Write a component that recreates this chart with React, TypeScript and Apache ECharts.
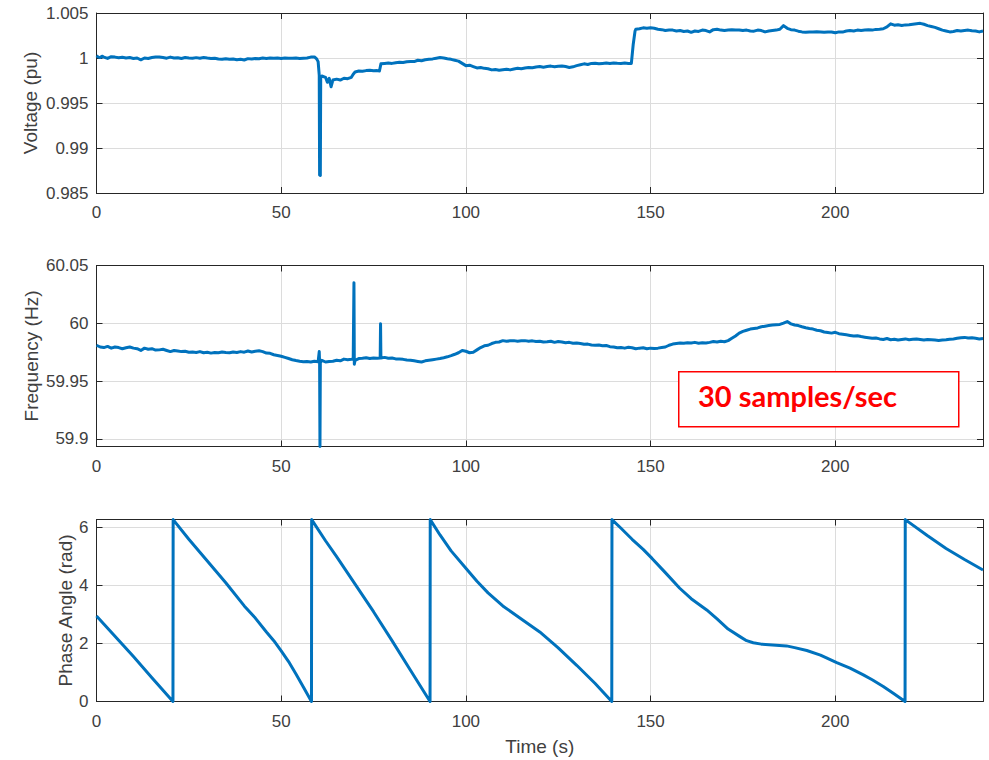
import { useEffect, useRef } from "react";
import * as echarts from "echarts";

// ---- tick labels ----
const timeTicks = [0, 50, 100, 150, 200];
const voltageTicks = [0.985, 0.99, 0.995, 1, 1.005];
const frequencyTicks = [59.9, 59.95, 60, 60.05];
const phaseTicks = [0, 2, 4, 6];

// ---- series values: [time (s), value] ----
const voltageSamples: [number, number][] = [
  [0, 1.00025], [0.5, 1.0001], [1, 1.00005], [1.5, 1.0002], [2, 1.0001], [3, 0.99995], [4, 1.00015], [5, 1.0001], [6, 1.00002], [7, 1.00008], [8, 1.0], [9, 1.00005],
  [10, 0.99995], [11, 1.0], [12, 0.9998], [13, 1.0], [14, 0.99995], [15, 1.00005], [16, 1.0001], [17, 1.0001], [18, 1.00005], [19, 0.99998],
  [20, 1.0001], [21, 1.0], [22, 1.00003], [23, 0.99995], [24, 1.00005], [25, 1.0], [26, 0.99997], [27, 1.00004], [28, 0.99998], [29, 1.00006],
  [30, 1.0], [31, 0.99995], [32, 0.99998], [33, 0.99988], [34, 0.99985], [35, 0.99992], [36, 0.99985], [37, 0.99988], [38, 0.9998], [39, 0.99985],
  [40, 0.99978], [41, 0.99993], [42, 0.99988], [43, 0.99995], [44, 0.99992], [45, 1.0], [46, 0.99995], [47, 1.0], [48, 0.99997], [49, 1.0],
  [50, 0.99995], [51, 1.0], [52, 0.99996], [53, 0.99998], [54, 1.0], [55, 0.99995], [56, 0.99998], [57, 1.00001], [58, 1.0001], [59, 1.00012],
  [59.6, 0.9999], [60, 0.9996], [60.3, 0.9981], [60.4, 0.987], [60.6, 0.98695], [60.7, 0.9978], [61, 0.998], [62, 0.99785], [62.5, 0.9973], [63, 0.99775],
  [63.5, 0.9968], [64, 0.99755], [65, 0.99765], [66, 0.99755], [67, 0.99775], [68, 0.9977], [69, 0.99785], [69.5, 0.9982], [70, 0.99845], [71, 0.99855],
  [72, 0.99852], [73, 0.9986], [74, 0.99865], [75, 0.99858], [76, 0.9986], [76.6, 0.99855], [77, 0.99935], [78, 0.9994], [79, 0.99945], [80, 0.9994],
  [81, 0.99948], [82, 0.99952], [83, 0.9995], [84, 0.99958], [85, 0.99962], [86, 0.9996], [87, 0.99975], [88, 0.9997], [89, 0.9998], [90, 0.99985],
  [91, 0.9999], [92, 0.99998], [93, 1.00005], [94, 1.0], [95, 0.99992], [96, 0.99985], [97, 0.99975], [98, 0.99965], [99, 0.9994], [100, 0.99915],
  [101, 0.9992], [102, 0.99905], [103, 0.9989], [104, 0.99895], [105, 0.99885], [106, 0.9988], [107, 0.99868], [108, 0.99872], [109, 0.99865], [110, 0.9987],
  [111, 0.99875], [112, 0.99868], [113, 0.99878], [114, 0.99885], [115, 0.9988], [116, 0.99888], [117, 0.99895], [118, 0.99892], [119, 0.999], [120, 0.99905],
  [121, 0.99898], [122, 0.99905], [123, 0.9991], [124, 0.99902], [125, 0.99908], [126, 0.99912], [127, 0.99905], [128, 0.99895], [129, 0.99902], [130, 0.99915],
  [131, 0.99925], [132, 0.99935], [133, 0.99928], [134, 0.9994], [135, 0.99942], [136, 0.99935], [137, 0.9994], [138, 0.99945], [139, 0.99938], [140, 0.99945],
  [141, 0.99942], [142, 0.9994], [143, 0.99945], [144, 0.99938], [144.8, 0.9994], [145.3, 1.0015], [145.8, 1.003], [146, 1.0032], [147, 1.00325], [148, 1.00335],
  [149, 1.0033], [150, 1.00335], [151, 1.0033], [152, 1.0032], [153, 1.00315], [154, 1.00305], [155, 1.0031], [156, 1.0031], [157, 1.003], [158, 1.00305],
  [159, 1.00295], [160, 1.003], [161, 1.00285], [162, 1.003], [163, 1.00295], [164, 1.0031], [165, 1.00305], [166, 1.0029], [167, 1.00315], [168, 1.0032],
  [169, 1.0031], [170, 1.00305], [171, 1.0031], [172, 1.00315], [173, 1.0031], [174, 1.00312], [175, 1.00305], [176, 1.0031], [177, 1.003], [178, 1.00298],
  [179, 1.0031], [180, 1.00305], [181, 1.0029], [182, 1.003], [183, 1.00305], [184, 1.0031], [185, 1.0032], [186, 1.0036], [187, 1.0033], [188, 1.00315],
  [189, 1.0031], [190, 1.00298], [191, 1.0029], [192, 1.00285], [193, 1.0029], [194, 1.00288], [195, 1.00292], [196, 1.0029], [197, 1.00285], [198, 1.0029],
  [199, 1.00288], [200, 1.0028], [201, 1.0029], [202, 1.00288], [203, 1.003], [204, 1.00305], [205, 1.003], [206, 1.0031], [207, 1.00305], [208, 1.0031],
  [209, 1.00315], [210, 1.0031], [211, 1.00318], [212, 1.0032], [213, 1.00325], [214, 1.00345], [215, 1.0038], [216, 1.00365], [217, 1.0037], [218, 1.00362],
  [219, 1.00368], [220, 1.0037], [221, 1.00375], [222, 1.0038], [223, 1.00385], [224, 1.00375], [225, 1.0036], [226, 1.0035], [227, 1.0034], [228, 1.00325],
  [229, 1.0031], [230, 1.003], [231, 1.0029], [232, 1.00295], [233, 1.00305], [234, 1.003], [235, 1.00305], [236, 1.0031], [237, 1.00302], [238, 1.003],
  [239, 1.0029], [240, 1.003],
];

const frequencySamples: [number, number][] = [
  [0, 59.981], [1, 59.9795], [2, 59.979], [3, 59.98], [4, 59.9785], [5, 59.9795], [6, 59.979], [7, 59.978], [8, 59.9788], [9, 59.9795],
  [10, 59.9785], [11, 59.978], [12, 59.9765], [13, 59.9785], [14, 59.9775], [15, 59.978], [16, 59.9768], [17, 59.977], [18, 59.9775], [19, 59.9765],
  [20, 59.9755], [21, 59.9765], [22, 59.976], [23, 59.9755], [24, 59.9758], [25, 59.975], [26, 59.9752], [27, 59.9748], [28, 59.9755], [29, 59.9745],
  [30, 59.975], [31, 59.9742], [32, 59.9748], [33, 59.9745], [34, 59.9752], [35, 59.9748], [36, 59.9745], [37, 59.9752], [38, 59.9748], [39, 59.9755],
  [40, 59.975], [41, 59.976], [42, 59.9752], [43, 59.9758], [44, 59.9762], [45, 59.9755], [46, 59.9742], [47, 59.974], [48, 59.9728], [49, 59.9722],
  [50, 59.9715], [51, 59.9705], [52, 59.9695], [53, 59.9685], [54, 59.9678], [55, 59.9672], [56, 59.9668], [57, 59.967], [58, 59.9665], [59, 59.9672],
  [60, 59.9668], [60.3, 59.9755], [60.4, 59.966], [60.5, 59.8934], [60.6, 59.966], [61, 59.968], [62, 59.9665], [63, 59.967], [64, 59.9672], [65, 59.968],
  [66, 59.9675], [67, 59.969], [68, 59.9685], [69, 59.9688], [69.5, 59.969], [69.7, 60.035], [69.8, 59.9645], [70, 59.968], [71, 59.9695], [72, 59.9698],
  [73, 59.9702], [74, 59.9695], [75, 59.97], [76, 59.9698], [76.8, 59.97], [76.9, 59.9995], [77, 59.97], [78, 59.9705], [79, 59.9698], [80, 59.97],
  [81, 59.9692], [82, 59.969], [83, 59.9688], [84, 59.9682], [85, 59.968], [86, 59.9675], [87, 59.967], [88, 59.9665], [89, 59.9675], [90, 59.968],
  [91, 59.9685], [92, 59.969], [93, 59.9695], [94, 59.9702], [95, 59.971], [96, 59.972], [97, 59.9732], [98, 59.9745], [99, 59.9765], [100, 59.9758],
  [101, 59.9745], [102, 59.975], [103, 59.977], [104, 59.979], [105, 59.9805], [106, 59.981], [107, 59.9825], [108, 59.9835], [109, 59.9838], [110, 59.985],
  [111, 59.9845], [112, 59.9848], [113, 59.985], [114, 59.9845], [115, 59.9848], [116, 59.985], [117, 59.9845], [118, 59.9848], [119, 59.9842], [120, 59.9845],
  [121, 59.9838], [122, 59.984], [123, 59.9845], [124, 59.9835], [125, 59.9842], [126, 59.9838], [127, 59.9832], [128, 59.9835], [129, 59.9828], [130, 59.983],
  [131, 59.9825], [132, 59.9818], [133, 59.982], [134, 59.9812], [135, 59.981], [136, 59.9812], [137, 59.9805], [138, 59.9808], [139, 59.9798], [140, 59.9795],
  [141, 59.9788], [142, 59.979], [143, 59.9785], [144, 59.9792], [145, 59.9788], [146, 59.978], [147, 59.9785], [148, 59.9788], [149, 59.978], [150, 59.9785],
  [151, 59.9782], [152, 59.9785], [153, 59.979], [154, 59.9795], [155, 59.981], [156, 59.982], [157, 59.9825], [158, 59.983], [159, 59.9828], [160, 59.9832],
  [161, 59.983], [162, 59.9835], [163, 59.9828], [164, 59.9832], [165, 59.983], [166, 59.9835], [167, 59.9842], [168, 59.9838], [169, 59.9845], [170, 59.984],
  [171, 59.985], [172, 59.987], [173, 59.989], [174, 59.9915], [175, 59.993], [176, 59.994], [177, 59.995], [178, 59.9955], [179, 59.996], [180, 59.997],
  [181, 59.9975], [182, 59.998], [183, 59.9985], [184, 59.9988], [185, 59.999], [186, 60.0002], [187, 60.0015], [188, 59.9995], [189, 59.9985], [190, 59.998],
  [191, 59.997], [192, 59.9962], [193, 59.9955], [194, 59.995], [195, 59.994], [196, 59.9935], [197, 59.9925], [198, 59.992], [199, 59.9915], [200, 59.9922],
  [201, 59.991], [202, 59.9905], [203, 59.99], [204, 59.9895], [205, 59.989], [206, 59.9892], [207, 59.9885], [208, 59.988], [209, 59.9875], [210, 59.987],
  [211, 59.9872], [212, 59.9865], [213, 59.986], [214, 59.9868], [215, 59.9858], [216, 59.9862], [217, 59.9855], [218, 59.986], [219, 59.9865], [220, 59.9858],
  [221, 59.9862], [222, 59.9865], [223, 59.986], [224, 59.9855], [225, 59.986], [226, 59.9858], [227, 59.9855], [228, 59.9852], [229, 59.9855], [230, 59.9858],
  [231, 59.9862], [232, 59.9865], [233, 59.987], [234, 59.9875], [235, 59.9878], [236, 59.9872], [237, 59.9875], [238, 59.987], [239, 59.9865], [240, 59.9868],
];

const phaseSamples: [number, number][] = [
  [0, 2.95], [5, 2.25], [10, 1.55], [15, 0.82], [20.7, 0],
  [20.75, 6.28], [25, 5.6], [30, 4.85], [35, 4.1], [40, 3.3], [43, 2.88], [46, 2.4], [48, 2.1], [50, 1.75], [52, 1.38], [54, 0.95], [56, 0.5], [58.2, 0],
  [58.25, 6.28], [62, 5.55], [65, 5.0], [70, 4.05], [75, 3.1], [80, 2.1], [85, 1.08], [90.3, 0],
  [90.35, 6.28], [93, 5.75], [96, 5.2], [100, 4.6], [103, 4.15], [106, 3.75], [110, 3.3], [115, 2.85], [120, 2.4], [125, 1.85], [130, 1.25], [135, 0.62], [139.5, 0],
  [139.55, 6.28], [142, 5.98], [145, 5.6], [148, 5.25], [150.4, 4.94], [154, 4.45], [157.9, 3.91], [161, 3.55], [165.2, 3.16], [168, 2.85], [171, 2.5],
  [174.2, 2.24], [176, 2.1], [177.8, 2.03], [180, 1.98], [183, 1.95], [186.8, 1.92], [189, 1.86], [192.3, 1.76], [196, 1.6], [200.4, 1.34],
  [204, 1.15], [207.6, 0.92], [210, 0.75], [213, 0.52], [216, 0.26], [218.9, 0],
  [218.95, 6.28], [225, 5.72], [230, 5.28], [235, 4.9], [240, 4.54],
];

const annotationText = "30 samples/sec";

const FONT = "'Liberation Sans', Arial, Helvetica, sans-serif";
const AXIS_COLOR = "#262626";
const LABEL_COLOR = "#404040";
const GRID_COLOR = "#dcdcdc";
const LINE_COLOR = "#0072BD";

export default function App() {
  const ref = useRef<HTMLDivElement>(null);

  useEffect(() => {
    if (!ref.current) return;
    const chart = echarts.init(ref.current, undefined, { renderer: "svg" });

    const grids = [
      { left: 96.5, top: 13, width: 886.5, height: 180 },
      { left: 96.5, top: 265.5, width: 886.5, height: 181 },
      { left: 96.5, top: 519.5, width: 886.5, height: 182 },
    ];

    const panels = [
      { min: 0.985, max: 1.005, ticks: voltageTicks, name: "Voltage (pu)", gap: 57, data: voltageSamples },
      { min: 59.8934, max: 60.05, ticks: frequencyTicks, name: "Frequency (Hz)", gap: 56, data: frequencySamples },
      { min: 0, max: 2 * Math.PI, ticks: phaseTicks, name: "Phase Angle (rad)", gap: 22, data: phaseSamples },
    ];

    const lineStyle = { color: AXIS_COLOR, width: 1 };
    const xAxis: any[] = [];
    const yAxis: any[] = [];
    const series: any[] = [];

    panels.forEach((p, i) => {
      xAxis.push({
        type: "value",
        gridIndex: i,
        min: 0,
        max: 240,
        position: "bottom",
        axisLine: { show: true, onZero: false, lineStyle },
        axisTick: { show: true, inside: true, length: 6, customValues: timeTicks, lineStyle },
        axisLabel: {
          customValues: timeTicks,
          fontSize: 17,
          fontFamily: FONT,
          color: LABEL_COLOR,
          margin: 11,
          formatter: (v: number) => String(v),
        },
        splitLine: { show: true, lineStyle: { color: GRID_COLOR, width: 1 } },
        name: i === 2 ? "Time (s)" : "",
        nameLocation: "middle",
        nameGap: 35,
        nameMoveOverlap: false,
        nameTextStyle: { fontSize: 19, fontFamily: FONT, color: LABEL_COLOR },
      });
      xAxis.push({
        type: "value",
        gridIndex: i,
        min: 0,
        max: 240,
        position: "top",
        axisLine: { show: true, onZero: false, lineStyle },
        axisTick: { show: true, inside: true, length: 6, customValues: timeTicks, lineStyle },
        axisLabel: { show: false },
        splitLine: { show: false },
      });
      yAxis.push({
        type: "value",
        gridIndex: i,
        min: p.min,
        max: p.max,
        position: "left",
        axisLine: { show: true, onZero: false, lineStyle },
        axisTick: { show: true, inside: true, length: 6, customValues: p.ticks, lineStyle },
        axisLabel: {
          customValues: p.ticks,
          fontSize: 17,
          fontFamily: FONT,
          color: LABEL_COLOR,
          margin: 8,
          formatter: (v: number) => String(v),
        },
        splitLine: { show: true, lineStyle: { color: GRID_COLOR, width: 1 } },
        name: p.name,
        nameLocation: "middle",
        nameRotate: 90,
        nameGap: p.gap,
        nameMoveOverlap: false,
        nameTextStyle: { fontSize: 19, fontFamily: FONT, color: LABEL_COLOR },
      });
      yAxis.push({
        type: "value",
        gridIndex: i,
        min: p.min,
        max: p.max,
        position: "right",
        axisLine: { show: true, onZero: false, lineStyle },
        axisTick: { show: true, inside: true, length: 6, customValues: p.ticks, lineStyle },
        axisLabel: { show: false },
        splitLine: { show: false },
      });
      series.push({
        type: "line",
        xAxisIndex: i * 2,
        yAxisIndex: i * 2,
        data: p.data,
        showSymbol: false,
        symbol: "none",
        clip: true,
        lineStyle: { color: LINE_COLOR, width: 3, join: "round" },
        z: 3,
      });
    });

    chart.setOption({
      animation: false,
      backgroundColor: "#ffffff",
      grid: grids,
      xAxis,
      yAxis,
      series,
      graphic: [
        {
          type: "rect",
          left: 678,
          top: 371,
          shape: { width: 280, height: 55 },
          style: { fill: "#ffffff", stroke: "#ff0000", lineWidth: 1.5 },
          z: 100,
        },
        {
          type: "text",
          left: 698,
          top: 381,
          style: {
            text: annotationText,
            fill: "#ff0000",
            font: "bold 29px Lato, 'Open Sans', sans-serif",
          },
          z: 101,
        },
      ],
    });

    return () => chart.dispose();
  }, []);

  return (
    <div
      ref={ref}
      style={{ position: "fixed", left: 0, top: 0, width: 989, height: 760, background: "#fff" }}
    />
  );
}
